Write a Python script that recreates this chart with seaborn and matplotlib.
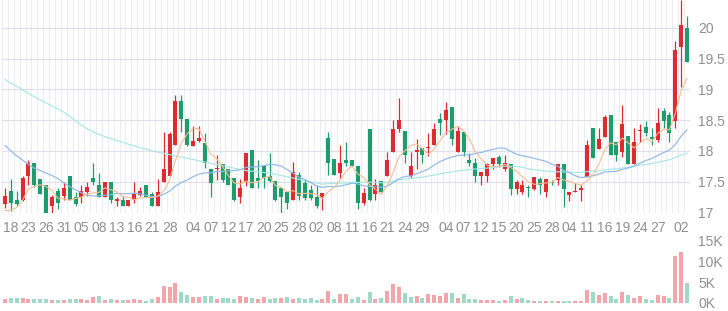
import numpy as np
import pandas as pd
import matplotlib
matplotlib.use("Agg")
import matplotlib.pyplot as plt
import seaborn as sns

# ---------------- data ----------------
opens = [17.14, 17.35, 17.21, 17.21, 17.60, 17.80, 17.55, 17.45, 17.10, 17.35,
         17.26, 17.60, 17.25, 17.25, 17.34, 17.56, 17.45, 17.25, 17.50, 17.19,
         17.21, 17.10, 17.21, 17.29, 17.45, 17.30, 17.10, 17.50, 17.60, 18.10,
         18.81, 18.51, 18.08, 18.16, 18.13, 17.70, 17.70, 17.78, 17.70, 17.56,
         17.25, 17.49, 18.01, 17.56, 17.76, 17.60, 17.51, 17.40, 17.34, 17.21,
         17.61, 17.48, 17.37, 17.25, 17.23, 18.21, 17.87, 17.64, 17.86, 17.86,
         17.76, 17.15, 18.36, 17.30, 17.51, 17.60, 17.99, 18.36, 18.32, 17.59,
         17.99, 18.05, 18.04, 18.10, 18.51, 18.50, 18.72, 17.99, 18.30, 17.86,
         17.80, 17.60, 17.60, 17.79, 17.90, 17.71, 17.79, 17.38, 17.33, 17.41,
         17.38, 17.55, 17.33, 17.49, 17.52, 17.79, 17.29, 17.33, 17.37, 17.58,
         18.38, 18.03, 18.23, 18.59, 18.14, 17.98, 18.25, 17.78, 18.33, 18.39,
         18.22, 18.17, 18.64, 18.59, 18.48, 19.69, 19.99]
highs = [17.40, 17.54, 17.35, 17.59, 17.86, 17.80, 17.55, 17.45, 17.29, 17.40,
         17.50, 17.60, 17.34, 17.45, 17.50, 17.80, 17.64, 17.50, 17.50, 17.25,
         17.26, 17.21, 17.49, 17.42, 17.45, 17.34, 17.54, 18.30, 18.30, 18.90,
         18.90, 18.51, 18.40, 18.40, 18.29, 17.70, 17.94, 17.78, 17.70, 17.56,
         17.54, 17.96, 18.01, 17.85, 17.76, 17.96, 17.51, 17.40, 17.34, 17.82,
         17.65, 17.55, 17.45, 17.45, 17.32, 18.30, 17.87, 18.10, 18.14, 17.86,
         17.76, 17.40, 18.36, 17.54, 17.51, 17.99, 18.50, 18.86, 18.32, 17.99,
         18.20, 18.05, 18.29, 18.46, 18.61, 18.79, 18.72, 18.40, 18.30, 17.96,
         17.89, 17.65, 17.80, 17.89, 17.94, 17.94, 17.79, 17.52, 17.52, 17.44,
         17.58, 17.58, 17.55, 17.52, 17.79, 17.79, 17.34, 17.48, 17.44, 18.17,
         18.38, 18.38, 18.59, 18.59, 18.14, 18.74, 18.25, 18.38, 18.44, 18.48,
         18.38, 18.70, 18.70, 18.63, 19.79, 20.45, 20.19]
lows = [17.07, 17.02, 17.10, 17.18, 17.45, 17.42, 17.30, 16.99, 17.00, 17.05,
        17.20, 17.20, 17.11, 17.15, 17.26, 17.45, 17.25, 17.25, 17.15, 17.11,
        17.10, 17.10, 17.15, 17.26, 17.25, 17.10, 17.10, 17.49, 17.59, 18.10,
        18.30, 18.08, 18.08, 18.15, 17.72, 17.25, 17.52, 17.50, 17.45, 17.18,
        17.15, 17.43, 17.40, 17.40, 17.40, 17.49, 17.18, 17.00, 17.05, 17.21,
        17.21, 17.21, 17.21, 17.07, 17.04, 17.61, 17.61, 17.56, 17.75, 17.76,
        17.05, 17.12, 17.18, 17.21, 17.34, 17.60, 17.99, 18.30, 17.80, 17.56,
        17.70, 17.80, 17.91, 18.10, 18.26, 18.27, 18.10, 17.99, 17.91, 17.75,
        17.50, 17.45, 17.49, 17.71, 17.74, 17.68, 17.29, 17.30, 17.30, 17.25,
        17.36, 17.30, 17.25, 17.44, 17.44, 17.09, 17.19, 17.33, 17.19, 17.58,
        17.89, 18.03, 18.23, 17.94, 17.84, 17.90, 17.79, 17.78, 18.14, 18.25,
        18.10, 18.14, 18.38, 18.14, 18.38, 19.04, 19.44]
closes = [17.26, 17.15, 17.14, 17.56, 17.80, 17.45, 17.30, 17.00, 17.25, 17.15,
          17.40, 17.20, 17.14, 17.35, 17.41, 17.49, 17.25, 17.50, 17.21, 17.22,
          17.10, 17.21, 17.30, 17.35, 17.25, 17.10, 17.33, 17.70, 18.27, 18.81,
          18.51, 18.10, 18.16, 18.21, 17.80, 17.48, 17.72, 17.53, 17.45, 17.21,
          17.40, 17.96, 17.40, 17.51, 17.56, 17.51, 17.21, 17.25, 17.15, 17.65,
          17.26, 17.24, 17.23, 17.10, 17.32, 17.80, 17.61, 17.80, 17.81, 17.76,
          17.15, 17.32, 17.21, 17.45, 17.34, 17.86, 18.36, 18.50, 17.94, 17.76,
          18.02, 17.94, 18.07, 18.36, 18.46, 18.66, 18.20, 18.32, 17.99, 17.80,
          17.60, 17.65, 17.79, 17.89, 17.79, 17.80, 17.38, 17.49, 17.44, 17.39,
          17.58, 17.44, 17.55, 17.48, 17.79, 17.38, 17.34, 17.35, 17.39, 18.09,
          17.89, 18.19, 18.55, 17.94, 17.93, 18.44, 17.79, 18.14, 18.34, 18.29,
          18.19, 18.46, 18.48, 18.29, 19.64, 20.05, 19.44]
volumes_k = [0.9, 1.1, 1.2, 1.1, 0.9, 0.95, 0.8, 0.9, 0.65, 0.5,
             0.65, 0.8, 0.8, 0.9, 0.65, 1.3, 1.5, 0.5, 0.95, 0.5,
             0.65, 0.65, 0.8, 0.65, 0.35, 0.95, 1.3, 4.0, 3.85, 4.8,
             2.5, 1.8, 1.3, 1.3, 1.55, 1.6, 0.95, 1.1, 1.1, 0.8,
             1.5, 1.3, 1.1, 0.95, 1.3, 0.95, 1.1, 1.1, 1.3, 0.95,
             1.0, 0.8, 1.0, 0.65, 0.95, 2.9, 0.95, 2.0, 2.1, 0.8,
             1.3, 0.5, 2.5, 0.75, 1.0, 2.8, 4.4, 3.8, 2.4, 1.3,
             1.55, 1.0, 2.0, 1.8, 1.55, 2.2, 2.2, 1.0, 2.1, 0.8,
             0.8, 0.5, 0.5, 0.5, 0.35, 0.5, 1.5, 0.8, 1.0, 0.5,
             0.4, 0.4, 0.35, 0.4, 0.35, 0.4, 0.35, 0.35, 0.3, 3.1,
             2.45, 1.8, 2.3, 1.6, 0.8, 2.6, 1.8, 1.0, 1.5, 0.8,
             0.65, 1.9, 1.55, 1.0, 11.3, 12.25, 4.65]

# moving-average values before enough candles exist
ma5_head = [17.03, 17.04, 17.08, 17.20]
ma20_head = [18.09, 18.00, 17.92, 17.85, 17.78, 17.72, 17.68, 17.64, 17.60, 17.55,
             17.48, 17.42, 17.37, 17.32, 17.28, 17.27, 17.27, 17.28, 17.29]
ma60_head = [19.16, 19.10, 19.05, 18.99, 18.93, 18.88, 18.83, 18.78, 18.73, 18.68,
             18.63, 18.56, 18.49, 18.42, 18.36, 18.31, 18.27, 18.23, 18.20, 18.17,
             18.14, 18.11, 18.08, 18.05, 18.03, 18.00, 17.98, 17.96, 17.94, 17.92,
             17.90, 17.88, 17.86, 17.84, 17.82, 17.80, 17.78, 17.76, 17.74, 17.72,
             17.70, 17.68, 17.67, 17.66, 17.65, 17.64, 17.62, 17.60, 17.58, 17.56,
             17.54, 17.52, 17.50, 17.48, 17.46, 17.47, 17.47, 17.48, 17.48]

date_labels = ["18", "23", "26", "31", "05", "08", "13", "16", "21", "28",
               "04", "07", "12", "17", "20", "25", "28", "02", "08", "11",
               "16", "21", "24", "29", "04", "07", "12", "15", "20", "25",
               "28", "04", "11", "16", "19", "24", "27", "02"]
date_label_idx = [1, 4, 7, 10, 13, 16, 19, 22, 25, 28,
                  32, 35, 38, 41, 44, 47, 50, 53, 56, 59,
                  62, 65, 68, 71, 75, 78, 81, 84, 87, 90,
                  93, 96, 99, 102, 105, 108, 111, 115]
price_ticks = [17, 17.5, 18, 18.5, 19, 19.5, 20]
price_tick_labels = ["17", "17.5", "18", "18.5", "19", "19.5", "20"]
vol_ticks_k = [0, 5, 10, 15]
vol_tick_labels = ["0K", "5K", "10K", "15K"]

# ---------------- build frame ----------------
df = pd.DataFrame({"open": opens, "high": highs, "low": lows,
                   "close": closes, "vol": np.array(volumes_k) * 1000})
df["idx"] = np.arange(len(df))
cl = df["close"]
ma5 = cl.rolling(5).mean()
ma5.iloc[:len(ma5_head)] = ma5_head
ma20 = cl.rolling(20).mean()
ma20.iloc[:len(ma20_head)] = ma20_head
ma60 = cl.rolling(60).mean()
ma60.iloc[:len(ma60_head)] = ma60_head

RED = "#dd2b2f"
GREEN = "#1e9d6c"
VRED = "#f3a5aa"
VGREEN = "#a0d9c5"
LABEL = "#8f8f8f"

sns.set_theme(style="white")
plt.rcParams["font.family"] = ["Liberation Sans", "DejaVu Sans"]

W, H = 728, 311
fig = plt.figure(figsize=(W / 100, H / 100), dpi=100)
fig.patch.set_facecolor("white")
left, right = 2, 690
ax = fig.add_axes([left / W, 1 - 212.5 / H, (right - left) / W, 212.5 / H])
axv = fig.add_axes([left / W, 1 - 302.5 / H, (right - left) / W, 61.5 / H])

n = len(df)
x = df["idx"].values
up = df["close"].values >= df["open"].values
colors = np.where(up, RED, GREEN)

# grid
for b in np.arange(-0.5, n + 0.5, 1.0):
    ax.axvline(b, color="#ededf1", lw=0.8, zorder=0)
for t in price_ticks:
    ax.axhline(t, color="#dfe1e8", lw=0.9, zorder=0)

# wicks and bodies
ax.vlines(x, df["low"], df["high"], colors=colors, lw=0.9, zorder=2)
body_lo = np.minimum(df["open"], df["close"])
body_h = np.maximum(np.abs(df["close"] - df["open"]), 0.012)
ax.bar(x, body_h, bottom=body_lo, width=0.68, color=colors, lw=0, zorder=3)

# moving averages
sns.lineplot(x=x, y=ma60.values, ax=ax, color="#a9e7e7", lw=0.85, zorder=4)
sns.lineplot(x=x, y=ma20.values, ax=ax, color="#90b9e7", lw=0.85, zorder=4)
sns.lineplot(x=x, y=ma5.values, ax=ax, color="#f7bd93", lw=0.8, zorder=4)

ax.set_xlim(-0.5, n - 0.5)
ax.set_ylim(17.0, 20.45)
for s in ax.spines.values():
    s.set_visible(False)
ax.yaxis.tick_right()
ax.set_yticks(price_ticks)
ax.set_yticklabels(price_tick_labels)
for lab in ax.get_yticklabels():
    lab.set_horizontalalignment("left")
ax.tick_params(axis="y", length=0, pad=6, labelsize=10, labelcolor=LABEL)
ax.set_xticks(date_label_idx)
ax.set_xticklabels(date_labels)
ax.tick_params(axis="x", length=0, pad=6, labelsize=10, labelcolor=LABEL)
ax.set_xlabel("")
ax.set_ylabel("")

# volume
prev_close = df["close"].shift(1).fillna(df["open"])
vup = df["close"].values >= prev_close.values
vcolors = np.where(vup, VRED, VGREEN)
axv.bar(x, df["vol"], width=0.68, color=vcolors, lw=0)
axv.set_xlim(-0.5, n - 0.5)
axv.set_ylim(0, 15000)
for s in axv.spines.values():
    s.set_visible(False)
axv.set_xticks([])
axv.yaxis.tick_right()
axv.set_yticks([v * 1000 for v in vol_ticks_k])
axv.set_yticklabels(vol_tick_labels)
for lab in axv.get_yticklabels():
    lab.set_horizontalalignment("left")
axv.tick_params(axis="y", length=0, pad=6, labelsize=10, labelcolor=LABEL)

fig.savefig("out.png", dpi=100, facecolor="white")
